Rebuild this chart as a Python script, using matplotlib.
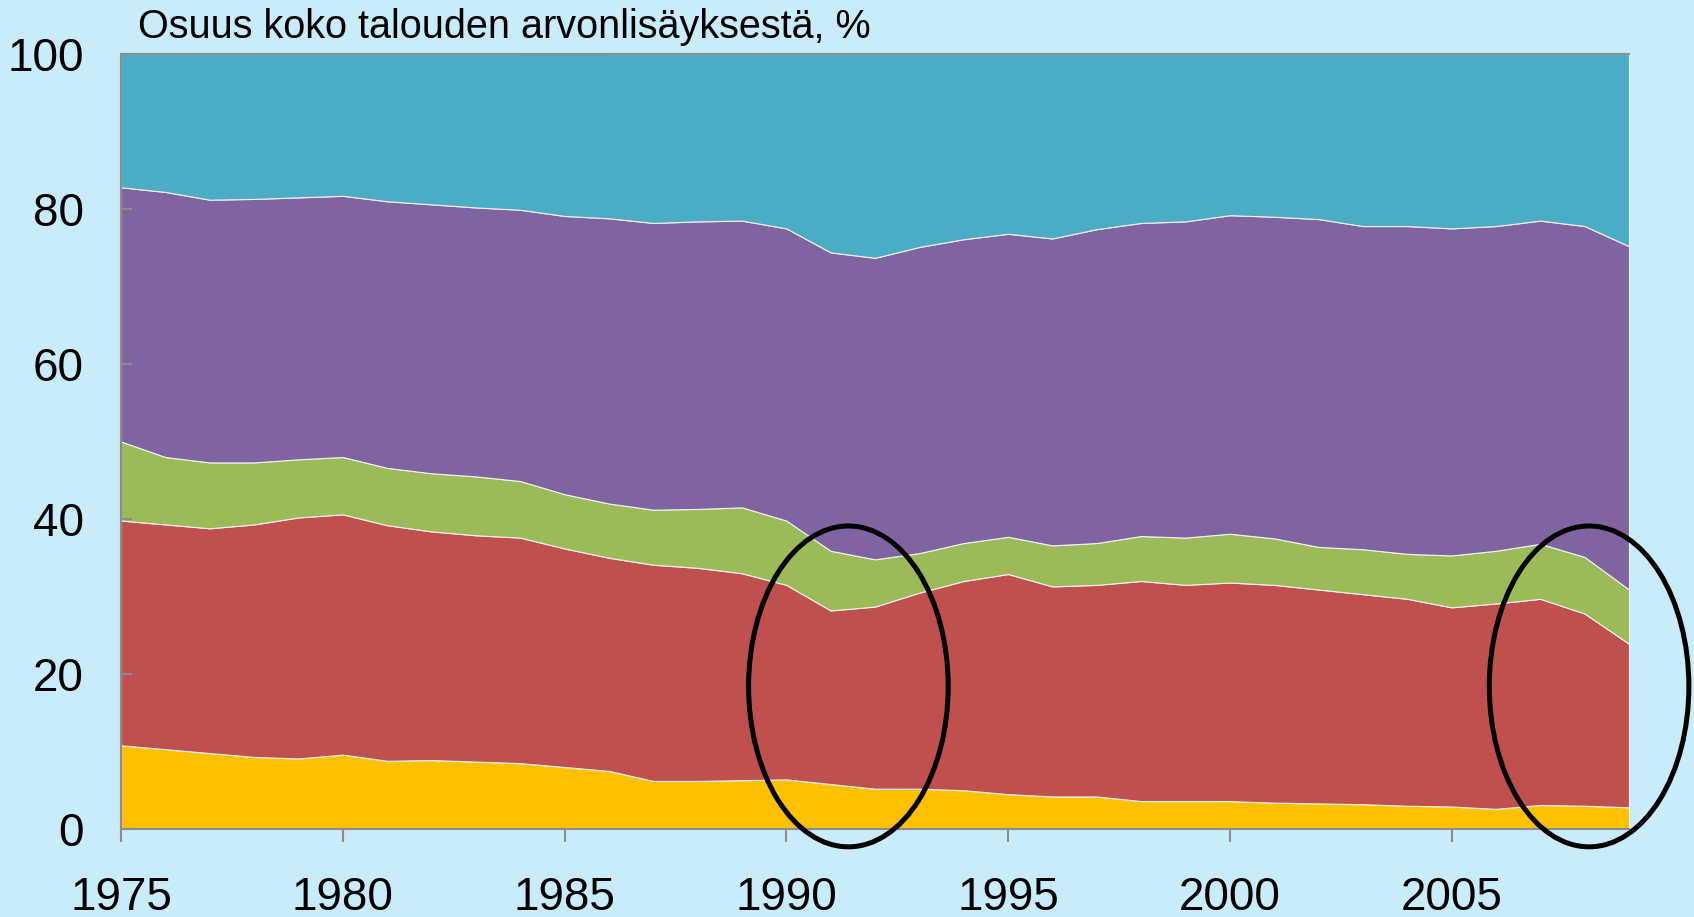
import matplotlib
matplotlib.use("Agg")
import matplotlib.pyplot as plt
from matplotlib.patches import Ellipse

plt.rcParams['font.family'] = ['Liberation Sans', 'DejaVu Sans']

years = list(range(1975, 2010))

# Shares of total value added, % (bottom -> top)
yellow = [10.8, 10.3, 9.8, 9.3, 9.1, 9.6, 8.8, 8.9, 8.7, 8.5, 8.0, 7.5, 6.2, 6.2, 6.3,
          6.4, 5.8, 5.2, 5.2, 5.0, 4.5, 4.2, 4.2, 3.6, 3.6, 3.6, 3.4, 3.3, 3.2, 3.0,
          2.9, 2.6, 3.1, 3.0, 2.8]
red = [29.0, 29.0, 29.0, 30.0, 31.1, 31.0, 30.4, 29.5, 29.2, 29.1, 28.2, 27.5, 27.9, 27.5, 26.7,
       25.1, 22.4, 23.5, 25.3, 27.0, 28.4, 27.1, 27.3, 28.4, 27.9, 28.2, 28.1, 27.6, 27.1, 26.7,
       25.7, 26.5, 26.6, 24.8, 21.1]
green = [10.2, 8.7, 8.5, 8.0, 7.5, 7.4, 7.4, 7.5, 7.6, 7.3, 7.0, 7.0, 7.1, 7.6, 8.5,
         8.3, 7.7, 6.1, 5.1, 4.9, 4.8, 5.3, 5.4, 5.8, 6.1, 6.3, 6.0, 5.5, 5.8, 5.8,
         6.7, 6.8, 7.1, 7.3, 7.0]
purple = [32.8, 34.2, 33.9, 34.0, 33.8, 33.7, 34.4, 34.7, 34.7, 35.0, 35.9, 36.8, 37.0, 37.1, 37.0,
          37.7, 38.5, 38.9, 39.5, 39.2, 39.1, 39.6, 40.5, 40.4, 40.8, 41.1, 41.5, 42.3, 41.7, 42.3,
          42.2, 41.9, 41.7, 42.7, 44.3]
teal = [17.2, 17.8, 18.8, 18.7, 18.5, 18.3, 19.0, 19.4, 19.8, 20.1, 21.0, 21.2, 21.8, 21.6, 21.5,
        22.5, 25.6, 26.3, 24.9, 23.9, 23.2, 23.8, 22.6, 21.8, 21.6, 20.8, 21.0, 21.3, 22.2, 22.2,
        22.5, 22.2, 21.5, 22.2, 24.8]

colors = ['#FFC000', '#C0504D', '#9BBB59', '#8064A2', '#4BACC6']
yticks = [0, 20, 40, 60, 80, 100]
xticks = [1975, 1980, 1985, 1990, 1995, 2000, 2005]
title = "Osuus koko talouden arvonlisäyksestä, %"

# highlighted periods (center year, center value, width in years, height in %)
highlights = [(1991.4, 18.4, 4.5, 41.4), (2008.1, 18.4, 4.5, 41.4)]

bg = '#C8ECFA'
fig = plt.figure(figsize=(16.94, 9.17), dpi=100, facecolor=bg)

ax = fig.add_axes([121/1694, 1 - 829/917, (1629-121)/1694, (829-54)/917])
ax.set_facecolor('none')
ax.stackplot(years, yellow, red, green, purple, teal, colors=colors,
             edgecolor='#F2F2F2', linewidth=0.8)
ax.set_xlim(1975, 2009)
ax.set_ylim(0, 100)

ax.set_yticks(yticks)
ax.set_xticks(xticks)
ax.tick_params(axis='y', direction='in', length=8, width=1.5, color='#8C8C8C',
               labelsize=33, pad=27)
ax.tick_params(axis='x', direction='out', length=9, width=1.5, color='#8C8C8C',
               labelsize=33, pad=25)
for s in ['left', 'bottom', 'top']:
    ax.spines[s].set_color('#8C8C8C')
    ax.spines[s].set_linewidth(1.5)
ax.spines['right'].set_visible(False)
for s in ax.spines.values():
    s.set_zorder(5)

for cx, cy, w, h in highlights:
    e = Ellipse((cx, cy), w, h, fill=False, edgecolor='black', linewidth=3.6,
                clip_on=False, zorder=6)
    ax.add_patch(e)

fig.text(138/1694, 1 - 38/917, title, fontsize=28.5, color='black',
         ha='left', va='baseline')

fig.savefig('out.png', dpi=100, facecolor=bg)
